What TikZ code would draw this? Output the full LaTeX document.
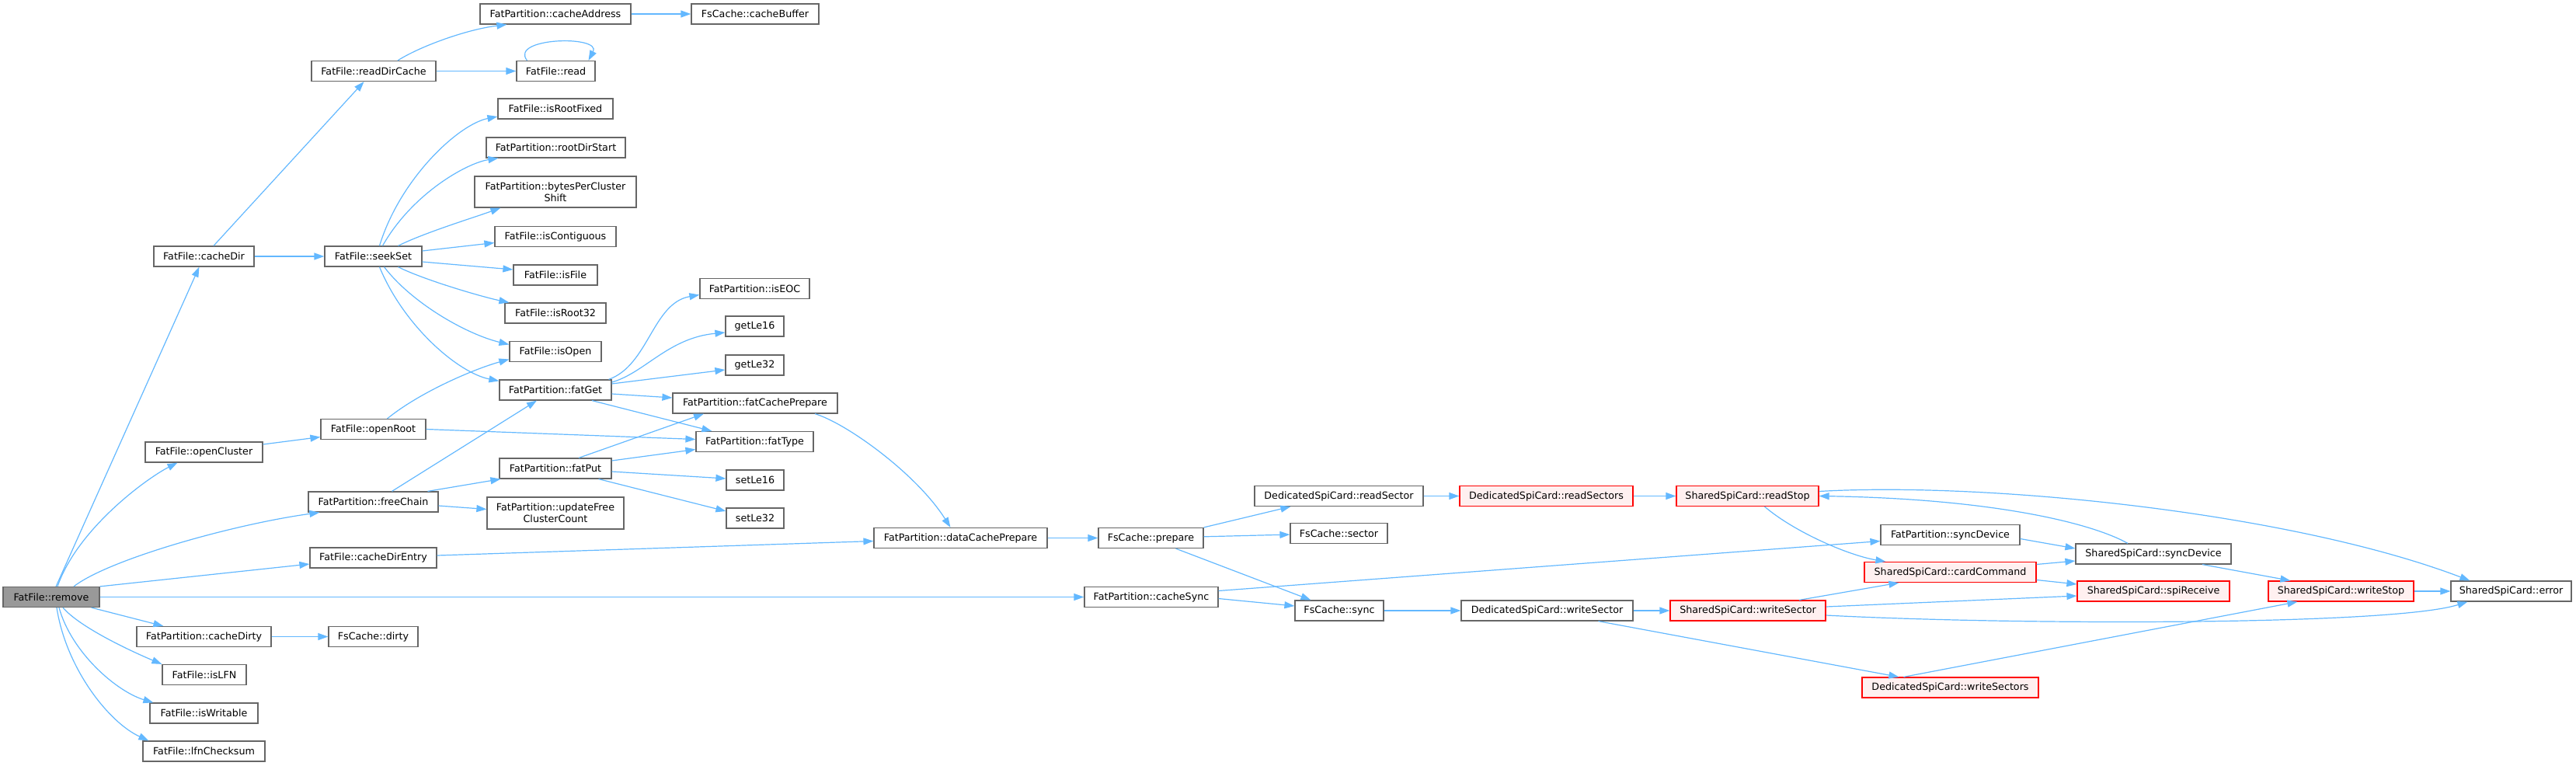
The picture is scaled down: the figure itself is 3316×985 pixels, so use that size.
\documentclass[tikz,border=0pt]{standalone}
\usepackage{fontspec}
\usepackage{tikz}
\usepackage{xcolor}
\usetikzlibrary{arrows.meta}
\newfontfamily\dejavu{DejaVu Sans}
\definecolor{edgeblue}{HTML}{63B8FF}
\definecolor{nodegray}{HTML}{666666}
\definecolor{maingray}{HTML}{999999}
\definecolor{redfill}{HTML}{FFF0F0}

\begin{document}
\begin{tikzpicture}[
    x=1pt, y=-1pt,
    fn/.style={rectangle, draw=nodegray, fill=white, line width=1.2pt, minimum height=26pt, inner sep=0pt, align=center, font={\dejavu\fontsize{12.7pt}{15pt}\selectfont}},
    fnred/.style={fn, draw=red, fill=redfill},
    fnmain/.style={fn, fill=maingray},
    call/.style={draw=edgeblue, line width=1.2pt, -{Triangle[length=13pt,width=9pt]}}
  ]
  \useasboundingbox (0,0) rectangle (3316,985);

  \node (remove) [fnmain, minimum width=124pt] at (66,768.5) {FatFile::remove};

  \node (cacheDir) [fn, minimum width=129pt] at (262.5,330) {FatFile::cacheDir};
  \node (openCluster) [fn, minimum width=151pt] at (262.5,582) {FatFile::openCluster};
  \node (cacheDirty) [fn, minimum width=173pt] at (262.5,819.5) {FatPartition::cacheDirty};
  \node (isLFN) [fn, minimum width=108pt] at (263,868.5) {FatFile::isLFN};
  \node (isWritable) [fn, minimum width=139pt] at (262.5,918) {FatFile::isWritable};
  \node (lfnChecksum) [fn, minimum width=157pt] at (262.5,967) {FatFile::lfnChecksum};

  \node (readDirCache) [fn, minimum width=160pt] at (481,91.5) {FatFile::readDirCache};
  \node (seekSet) [fn, minimum width=125pt] at (480.5,330) {FatFile::seekSet};
  \node (openRoot) [fn, minimum width=135pt] at (480.5,552.5) {FatFile::openRoot};
  \node (freeChain) [fn, minimum width=167pt] at (480.5,646) {FatPartition::freeChain};
  \node (cacheDirEntry) [fn, minimum width=163pt] at (480.5,718) {FatFile::cacheDirEntry};
  \node (dirty) [fn, minimum width=115pt] at (480.5,819.5) {FsCache::dirty};

  \node (cacheAddress) [fn, minimum width=194pt] at (715,18) {FatPartition::cacheAddress};
  \node (read) [fn, minimum width=101pt] at (715.5,91.5) {FatFile::read};
  \node (isRootFixed) [fn, minimum width=148pt] at (715,140) {FatFile::isRootFixed};
  \node (rootDirStart) [fn, minimum width=179pt] at (715.5,190) {FatPartition::rootDirStart};
  \node (bytesPerCluster) [fn, minimum width=208pt, minimum height=40pt] at (715,247) {FatPartition::bytesPerCluster\\Shift};
  \node (isContiguous) [fn, minimum width=156pt] at (715,304.5) {FatFile::isContiguous};
  \node (isFile) [fn, minimum width=108pt] at (715,354) {FatFile::isFile};
  \node (isRoot32) [fn, minimum width=130pt] at (715,403) {FatFile::isRoot32};
  \node (isOpen) [fn, minimum width=118pt] at (715,452.5) {FatFile::isOpen};
  \node (fatGet) [fn, minimum width=144pt] at (715,502) {FatPartition::fatGet};
  \node (fatPut) [fn, minimum width=144pt] at (715,603) {FatPartition::fatPut};
  \node (updateFree) [fn, minimum width=176pt, minimum height=41pt] at (715,660.5) {FatPartition::updateFree\\ClusterCount};

  \node (cacheBuffer) [fn, minimum width=164pt] at (972,18) {FsCache::cacheBuffer};
  \node (isEOC) [fn, minimum width=141pt] at (971.5,371.5) {FatPartition::isEOC};
  \node (getLe16) [fn, minimum width=75pt] at (971.5,420) {getLe16};
  \node (getLe32) [fn, minimum width=75pt] at (971.5,470) {getLe32};
  \node (fatCachePrepare) [fn, minimum width=212pt] at (972,519) {FatPartition::fatCachePrepare};
  \node (fatType) [fn, minimum width=151pt] at (971.5,568.5) {FatPartition::fatType};
  \node (setLe16) [fn, minimum width=74pt] at (972,618) {setLe16};
  \node (setLe32) [fn, minimum width=74pt] at (972,667) {setLe32};

  \node (dataCachePrepare) [fn, minimum width=223pt] at (1236.5,692.5) {FatPartition::dataCachePrepare};
  \node (prepare) [fn, minimum width=135pt] at (1481.5,692.5) {FsCache::prepare};
  \node (cacheSync) [fn, minimum width=172pt] at (1482,768.5) {FatPartition::cacheSync};

  \node (readSector) [fn, minimum width=217pt] at (1723.5,638.5) {DedicatedSpiCard::readSector};
  \node (sector) [fn, minimum width=125pt] at (1723.5,686.5) {FsCache::sector};
  \node (sync) [fn, minimum width=114pt] at (1724,786) {FsCache::sync};
  \node (readSectors) [fnred, minimum width=223pt] at (1990.5,638.5) {DedicatedSpiCard::readSectors};
  \node (writeSectorD) [fn, minimum width=221pt] at (1991.5,786) {DedicatedSpiCard::writeSector};
  \node (readStop) [fnred, minimum width=183pt] at (2249.5,638.5) {SharedSpiCard::readStop};
  \node (writeSectorS) [fnred, minimum width=200pt] at (2250,786) {SharedSpiCard::writeSector};

  \node (syncDeviceF) [fn, minimum width=179pt] at (2510.5,688.5) {FatPartition::syncDevice};
  \node (cardCommand) [fnred, minimum width=221pt] at (2510.5,736.5) {SharedSpiCard::cardCommand};
  \node (writeSectors) [fnred, minimum width=227pt] at (2510.5,885) {DedicatedSpiCard::writeSectors};
  \node (syncDeviceS) [fn, minimum width=200pt] at (2772,713) {SharedSpiCard::syncDevice};
  \node (spiReceive) [fnred, minimum width=196pt] at (2772,761) {SharedSpiCard::spiReceive};
  \node (writeStop) [fnred, minimum width=187pt] at (3013.5,761) {SharedSpiCard::writeStop};
  \node (error) [fn, minimum width=155pt] at (3232.5,761) {SharedSpiCard::error};

  % calls of FatFile::remove
  \draw[call] (remove) -- (cacheDir);
  \draw[call] ([xshift=8pt]remove.north) .. controls (100,680) and (190,615) .. ([xshift=-34pt]openCluster.south);
  \draw[call] ([xshift=29pt]remove.north) .. controls (140,720) and (300,675) .. ([xshift=15pt]freeChain.south west);
  \draw[call] (remove.north east) -- ([yshift=-8pt]cacheDirEntry.west);
  \draw[call] (remove) -- (cacheSync);
  \draw[call] ([xshift=-11pt]remove.south east) -- ([xshift=35pt]cacheDirty.north west);
  \draw[call] ([xshift=15pt]remove.south) .. controls (105,810) and (180,843) .. (isLFN.north west);
  \draw[call] ([xshift=10pt]remove.south) .. controls (92,840) and (150,890) .. ([xshift=5pt]isWritable.north west);
  \draw[call] ([xshift=7pt]remove.south) .. controls (85,860) and (140,930) .. ([xshift=8pt]lfnChecksum.north west);
  \draw[call] (cacheDirty) -- (dirty);

  \draw[call] (cacheDir) -- (readDirCache);
  \draw[call] (cacheDir) -- (seekSet);
  \draw[call] ([xshift=31pt]readDirCache.north) .. controls (540,60) and (600,38) .. ([xshift=35pt]cacheAddress.south west);
  \draw[call] (readDirCache) -- (read);
  \draw[call] ([xshift=-37pt]read.north) .. controls (655,48) and (775,45) .. ([xshift=42pt]read.north);
  \draw[call] (cacheAddress) -- (cacheBuffer);

  % calls of FatFile::seekSet
  \draw[call] ([xshift=8pt]seekSet.north) .. controls (515,230) and (590,160) .. ([yshift=-10pt]isRootFixed.west);
  \draw[call] ([xshift=12pt]seekSet.north) .. controls (530,250) and (600,210) .. ([xshift=16pt]rootDirStart.south west);
  \draw[call] ([xshift=32pt]seekSet.north) .. controls (545,300) and (610,280) .. ([xshift=34pt]bytesPerCluster.south west);
  \draw[call] ([yshift=7pt]seekSet.east) -- ([yshift=-8pt]isContiguous.west);
  \draw[call] ([yshift=-7pt]seekSet.east) -- ([yshift=7pt]isFile.west);
  \draw[call] ([xshift=32pt]seekSet.south) .. controls (545,360) and (620,382) .. ([xshift=6pt]isRoot32.north west);
  \draw[call] ([xshift=14pt]seekSet.south) .. controls (530,390) and (600,430) .. ([yshift=9pt]isOpen.west);
  \draw[call] ([xshift=8pt]seekSet.south) .. controls (520,420) and (590,480) .. ([yshift=-2pt]fatGet.north west);

  \draw[call] ([yshift=10pt]openCluster.east) -- ([yshift=-10pt]openRoot.west);
  \draw[call] ([xshift=18pt]openRoot.north) .. controls (540,505) and (610,475) .. ([yshift=-10pt]isOpen.west);
  \draw[call] (openRoot.east) -- ([yshift=3pt]fatType.west);

  \draw[call] ([xshift=24pt]freeChain.north) -- ([xshift=-24pt]fatGet.south);
  \draw[call] ([xshift=70pt]freeChain.north) -- ([xshift=2pt]fatPut.south west);
  \draw[call] ([yshift=-5pt]freeChain.east) -- ([yshift=5pt]updateFree.west);

  % calls of fatGet and fatPut
  \draw[call] ([xshift=-4pt]fatGet.north east) .. controls (835,470) and (840,390) .. ([yshift=-8pt]isEOC.west);
  \draw[call] ([yshift=10pt]fatGet.east) .. controls (830,480) and (860,435) .. ([yshift=-8pt]getLe16.west);
  \draw[call] ([yshift=8pt]fatGet.east) -- ([yshift=-6pt]getLe32.west);
  \draw[call] ([yshift=-5pt]fatGet.east) -- ([yshift=7pt]fatCachePrepare.west);
  \draw[call] ([xshift=47pt]fatGet.south) -- ([xshift=21pt]fatType.north west);
  \draw[call] ([xshift=30pt]fatPut.north) -- ([xshift=-66pt]fatCachePrepare.south);
  \draw[call] ([yshift=10pt]fatPut.east) -- ([yshift=-10pt]fatType.west);
  \draw[call] ([yshift=-4pt]fatPut.east) -- ([yshift=2pt]setLe16.west);
  \draw[call] ([xshift=-17pt]fatPut.south east) -- ([yshift=9pt]setLe32.west);

  \draw[call] ([xshift=77pt]fatCachePrepare.south) .. controls (1090,545) and (1180,610) .. ([xshift=-13pt]dataCachePrepare.north);
  \draw[call] ([yshift=3pt]cacheDirEntry.east) -- ([yshift=-4pt]dataCachePrepare.west);
  \draw[call] (dataCachePrepare) -- (prepare);

  % FsCache and the card
  \draw[call] (prepare.north east) -- ([xshift=47pt]readSector.south west);
  \draw[call] (prepare) -- (sector);
  \draw[call] ([xshift=32pt]prepare.south) -- ([xshift=21pt]sync.north west);
  \draw[call] ([yshift=8pt]cacheSync.east) -- ([yshift=-8pt]syncDeviceF.west);
  \draw[call] ([yshift=-2pt]cacheSync.east) -- ([yshift=6pt]sync.west);

  \draw[call] (readSector) -- (readSectors);
  \draw[call] (readSectors) -- (readStop);
  \draw[call] ([xshift=22pt]readStop.south) .. controls (2310,685) and (2380,715) .. ([xshift=28pt]cardCommand.north west);
  \draw[call] (sync) -- (writeSectorD);
  \draw[call] (writeSectorD) -- (writeSectorS);
  \draw[call] ([xshift=66pt]writeSectorD.south) -- ([xshift=48pt]writeSectors.north west);
  \draw[call] ([xshift=66pt]writeSectorS.north) -- ([xshift=45pt]cardCommand.south west);
  \draw[call] ([yshift=5pt]writeSectorS.east) -- ([yshift=-6pt]spiReceive.west);
  \draw[call] ([yshift=-6pt]writeSectorS.east) .. controls (2600,805) and (3080,805) .. ([xshift=22pt]error.south west);

  \draw[call] ([yshift=-5pt]syncDeviceF.east) -- ([yshift=7pt]syncDeviceS.west);
  \draw[call] ([yshift=10pt]cardCommand.east) -- ([yshift=-9pt]syncDeviceS.west);
  \draw[call] ([yshift=-10pt]cardCommand.east) -- ([yshift=9pt]spiReceive.west);
  \draw[call] ([xshift=-33pt]syncDeviceS.north) .. controls (2690,672) and (2560,642) .. (readStop.east);
  \draw[call] ([yshift=6pt]readStop.east) .. controls (2560,620) and (2950,660) .. ([xshift=25pt]error.north west);
  \draw[call] ([xshift=63pt]syncDeviceS.south) -- ([xshift=29pt]writeStop.north west);
  \draw[call] (writeStop) -- (error);
  \draw[call] ([xshift=54pt]writeSectors.north west) -- ([xshift=38pt]writeStop.south west);
\end{tikzpicture}
\end{document}
